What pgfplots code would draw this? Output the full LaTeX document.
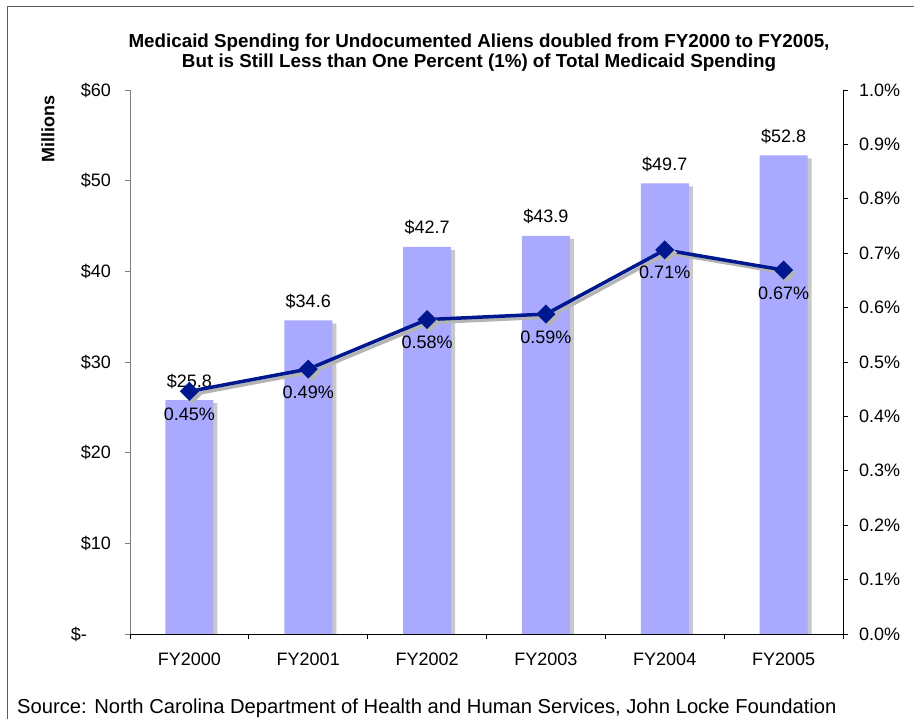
\documentclass[border=0pt]{standalone}
\usepackage{pgfplots}
\pgfplotsset{compat=1.18}
\usepackage{fontspec}
\setmainfont{Liberation Sans}
\definecolor{barblue}{RGB}{169,169,255}
\definecolor{shadowgray}{RGB}{200,200,200}
\definecolor{linenavy}{RGB}{0,24,143}
\definecolor{frame}{RGB}{90,90,90}

\pgfplotstableread{
x val
0 25.8
1 34.6
2 42.7
3 43.9
4 49.7
5 52.8
}\spending
\pgfplotstableread{
x pct lab
0 0.446 0.45
1 0.487 0.49
2 0.578 0.58
3 0.588 0.59
4 0.706 0.71
5 0.669 0.67
}\share

\begin{document}
\begin{tikzpicture}[x=1pt,y=1pt]
\useasboundingbox (0,0) rectangle (914,719);
\fill[white] (0,0) rectangle (914,719);
\draw[frame, line width=1pt] (7,-5) -- (7,712) -- (920,712);

\pgfplotsset{every axis/.append style={
  scale only axis, width=713pt, height=544pt,
  at={(130pt,85pt)}, anchor=south west,
  xmin=-0.5, xmax=5.5,
  tick align=outside, major tick length=5pt,
  /pgf/number format/assume math mode=true,
  tick label style={font=\fontsize{18}{20}\selectfont},
}}

\begin{axis}[
  ymin=0, ymax=60,
  axis x line*=bottom, axis y line*=left,
  x axis line style={black, line width=0.8pt},
  y axis line style={gray, line width=0.8pt},
  xtick={-0.5,0.5,...,5.5},
  x tick label as interval,
  xticklabels={FY2000,FY2001,FY2002,FY2003,FY2004,FY2005},
  xtick style={black, line width=0.8pt},
  xticklabel style={anchor=north, yshift=-10pt},
  ytick={0,10,...,60},
  yticklabels={{\$-\hspace*{24pt}},{\$10},{\$20},{\$30},{\$40},{\$50},{\$60}},
  ytick style={gray, line width=0.8pt},
  yticklabel style={anchor=east, inner sep=0pt, xshift=-14pt},
  ybar, bar width=48pt,
]
\addplot[fill=shadowgray, draw=none, bar shift=0pt, xshift=4pt, yshift=-3pt] table[x=x,y=val]{\spending};
\addplot[fill=barblue, draw=none, bar shift=0pt,
  nodes near coords={\$\pgfmathprintnumber[fixed,precision=1,fixed zerofill,assume math mode=true]{\pgfplotspointmeta}},
  every node near coord/.append style={font=\fontsize{18}{20}\selectfont, anchor=base, yshift=13pt, black}
] table[x=x,y=val]{\spending};
\end{axis}

\begin{axis}[
  ymin=0, ymax=1.0,
  axis x line=none, axis y line*=right,
  y axis line style={black, line width=0.8pt},
  ytick={0,0.1,...,1.0},
  yticklabels={0.0\%,0.1\%,0.2\%,0.3\%,0.4\%,0.5\%,0.6\%,0.7\%,0.8\%,0.9\%,1.0\%},
  ytick style={black, line width=0.8pt},
  yticklabel style={anchor=west, inner sep=0pt, xshift=11pt},
]
\addplot[shadowgray!90!black, line width=3.5pt, xshift=3pt, yshift=-3pt, mark=square*, mark size=5pt, mark options={rotate=45}] table[x=x,y=pct]{\share};
\addplot[linenavy, line width=3.5pt, mark=square*, mark size=5pt, mark options={rotate=45, fill=linenavy},
  point meta=explicit,
  nodes near coords={\pgfmathprintnumber[fixed,precision=2,fixed zerofill,assume math mode=true]{\pgfplotspointmeta}\%},
  every node near coord/.append style={font=\fontsize{18}{20}\selectfont, anchor=base, yshift=-29pt, black}
] table[x=x,y=pct,meta=lab]{\share};
\end{axis}

\node[rotate=90, inner sep=0pt, font=\fontsize{18}{20}\selectfont\bfseries] at (48,590) {Millions};
\node[anchor=base, inner sep=0pt, font=\fontsize{18.8}{20}\selectfont\bfseries] at (479,671) {Medicaid Spending for Undocumented Aliens doubled from FY2000 to FY2005,};
\node[anchor=base, inner sep=0pt, font=\fontsize{18.8}{20}\selectfont\bfseries] at (479,651) {But is Still Less than One Percent (1\%) of Total Medicaid Spending};
\node[anchor=base west, inner sep=0pt, font=\fontsize{20.2}{22}\selectfont] at (17,5) {Source: North Carolina Department of Health and Human Services, John Locke Foundation};
\end{tikzpicture}
\end{document}
